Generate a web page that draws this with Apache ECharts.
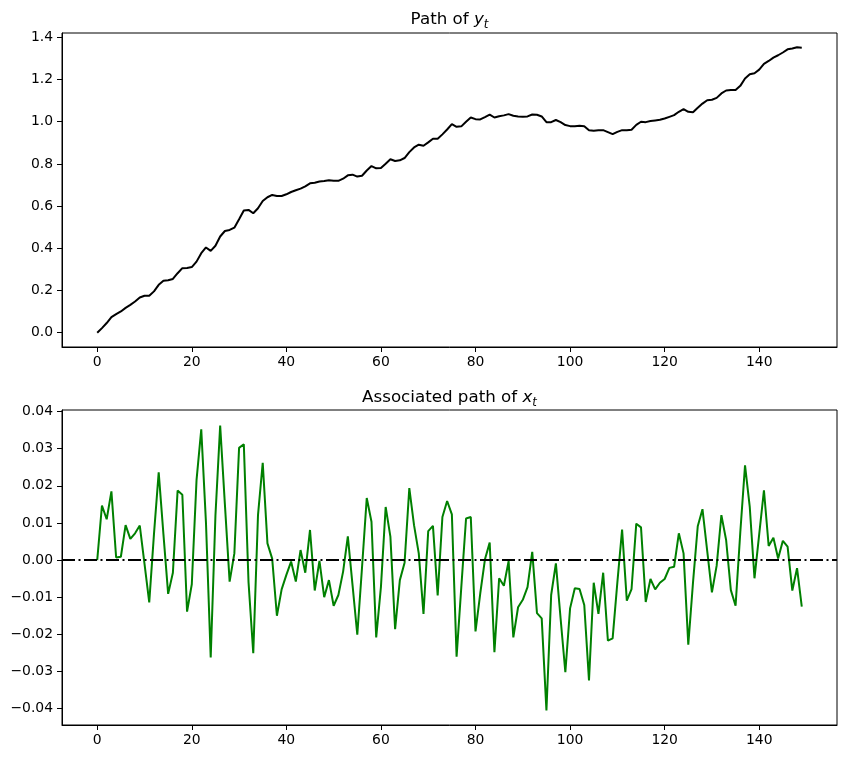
<!DOCTYPE html>
<html>
<head>
<meta charset="utf-8">
<script src="https://cdn.jsdelivr.net/npm/echarts@6/dist/echarts.min.js"></script>
<style>
html, body { margin: 0; padding: 0; background: #fff; }
#main { width: 847px; height: 759px; }
</style>
</head>
<body>
<div id="main"></div>
<script>
// path of y_t
var yPath = [
    0.000, 0.022, 0.046, 0.074, 0.088, 0.101, 0.118, 0.132, 0.148, 0.167,
    0.175, 0.175, 0.196, 0.227, 0.246, 0.249, 0.255, 0.282, 0.306, 0.307,
    0.311, 0.337, 0.377, 0.404, 0.388, 0.412, 0.456, 0.482, 0.487, 0.498,
    0.538, 0.579, 0.582, 0.566, 0.590, 0.624, 0.642, 0.653, 0.648, 0.648,
    0.656, 0.667, 0.675, 0.683, 0.694, 0.708, 0.711, 0.717, 0.719, 0.723,
    0.720, 0.720, 0.730, 0.746, 0.749, 0.740, 0.744, 0.769, 0.790, 0.779,
    0.781, 0.801, 0.822, 0.814, 0.817, 0.828, 0.856, 0.878, 0.891, 0.886,
    0.902, 0.919, 0.919, 0.940, 0.963, 0.989, 0.976, 0.978, 1.000, 1.020,
    1.012, 1.011, 1.022, 1.034, 1.020, 1.026, 1.030, 1.036, 1.028, 1.025,
    1.023, 1.025, 1.034, 1.033, 1.025, 0.998, 0.998, 1.008, 0.998, 0.984,
    0.979, 0.979, 0.981, 0.979, 0.960, 0.957, 0.959, 0.960, 0.951, 0.941,
    0.952, 0.960, 0.960, 0.962, 0.985, 1.000, 0.998, 1.003, 1.006, 1.009,
    1.015, 1.023, 1.031, 1.047, 1.060, 1.047, 1.045, 1.066, 1.086, 1.102,
    1.104, 1.113, 1.134, 1.148, 1.150, 1.150, 1.170, 1.205, 1.225, 1.230,
    1.247, 1.274, 1.288, 1.304, 1.315, 1.328, 1.343, 1.347, 1.353, 1.351
];

// associated path of x_t, lower panel
var xPath = [
    0.0000, 0.0147, 0.0110, 0.0185, 0.0007, 0.0009, 0.0094, 0.0057, 0.0072, 0.0093,
    -0.0010, -0.0114, 0.0070, 0.0236, 0.0070, -0.0091, -0.0034, 0.0187, 0.0176, -0.0139,
    -0.0065, 0.0215, 0.0352, 0.0100, -0.0262, 0.0120, 0.0362, 0.0150, -0.0058, 0.0018,
    0.0302, 0.0312, -0.0060, -0.0251, 0.0121, 0.0262, 0.0045, 0.0004, -0.0150, -0.0079,
    -0.0040, -0.0004, -0.0058, 0.0027, -0.0034, 0.0081, -0.0082, -0.0002, -0.0100, -0.0054,
    -0.0123, -0.0094, -0.0031, 0.0064, -0.0068, -0.0201, -0.0020, 0.0167, 0.0103, -0.0208,
    -0.0072, 0.0143, 0.0063, -0.0186, -0.0054, -0.0007, 0.0194, 0.0094, 0.0018, -0.0145,
    0.0078, 0.0092, -0.0095, 0.0116, 0.0159, 0.0123, -0.0260, -0.0072, 0.0112, 0.0116,
    -0.0192, -0.0090, 0.0002, 0.0047, -0.0248, -0.0049, -0.0069, -0.0003, -0.0208, -0.0127,
    -0.0107, -0.0073, 0.0022, -0.0143, -0.0157, -0.0405, -0.0094, -0.0009, -0.0158, -0.0302,
    -0.0130, -0.0076, -0.0078, -0.0121, -0.0324, -0.0061, -0.0145, -0.0034, -0.0217, -0.0211,
    -0.0060, 0.0082, -0.0109, -0.0078, 0.0098, 0.0088, -0.0113, -0.0051, -0.0079, -0.0061,
    -0.0051, -0.0021, -0.0018, 0.0072, 0.0018, -0.0228, -0.0060, 0.0091, 0.0137, 0.0025,
    -0.0087, -0.0015, 0.0121, 0.0054, -0.0081, -0.0123, 0.0075, 0.0255, 0.0143, -0.0049,
    0.0070, 0.0188, 0.0038, 0.0060, 0.0004, 0.0052, 0.0036, -0.0082, -0.0022, -0.0125
];

var xTicks = [0, 20, 40, 60, 80, 100, 120, 140];
var yTicksTop = [0, 0.2, 0.4, 0.6, 0.8, 1.0, 1.2, 1.4];
var yTicksBottom = [-0.04, -0.03, -0.02, -0.01, 0, 0.01, 0.02, 0.03, 0.04];

var FONT = 'DejaVu Sans';

function fmt(v, d) {
    return v.toFixed(d).replace('-', '\u2212');
}

function xAxisOf(idx) {
    return {
        type: 'value',
        gridIndex: idx,
        min: -7.45,
        max: 156.45,
        axisLine: { show: true, onZero: false, lineStyle: { color: '#000', width: 1 } },
        axisTick: { show: true, customValues: xTicks, length: 5, lineStyle: { color: '#000' } },
        axisLabel: { customValues: xTicks, color: '#000', fontSize: 13.9, fontFamily: FONT, margin: 8 },
        splitLine: { show: false }
    };
}

function yAxisOf(idx, lo, hi, ticks, digits) {
    return {
        type: 'value',
        gridIndex: idx,
        min: lo,
        max: hi,
        axisLine: { show: true, onZero: false, lineStyle: { color: '#000', width: 1 } },
        axisTick: { show: true, customValues: ticks, length: 5, lineStyle: { color: '#000' } },
        axisLabel: {
            customValues: ticks, color: '#000', fontSize: 13.9, fontFamily: FONT, margin: 9,
            formatter: function (v) { return fmt(v, digits); }
        },
        splitLine: { show: false }
    };
}

function titleText(y, pre, sym) {
    return {
        type: 'text',
        x: 449.5,
        y: y,
        style: {
            text: pre + '{i|' + sym + '}{s|t}',
            align: 'center',
            verticalAlign: 'middle',
            fill: '#000',
            font: '16.7px "DejaVu Sans"',
            rich: {
                i: { fontSize: 16.7, fontStyle: 'italic', fontFamily: FONT, fill: '#000' },
                s: { fontSize: 11.7, fontStyle: 'italic', fontFamily: FONT, fill: '#000', padding: [9, 0, 0, 0] }
            }
        }
    };
}

var myChart = echarts.init(document.getElementById('main'), null, { renderer: 'canvas' });

var option = {
    animation: false,
    backgroundColor: '#fff',
    textStyle: { fontFamily: FONT },
    graphic: [
        titleText(20, 'Path of ', 'y'),
        titleText(398, 'Associated path of ', 'x')
    ],
    grid: [
        { left: 62, right: 10, top: 33, height: 314, show: true, borderColor: '#000', borderWidth: 1 },
        { left: 62, right: 10, top: 410, height: 315, show: true, borderColor: '#000', borderWidth: 1 }
    ],
    xAxis: [xAxisOf(0), xAxisOf(1)],
    yAxis: [
        yAxisOf(0, -0.0676, 1.4204, yTicksTop, 1),
        yAxisOf(1, -0.0444, 0.0404, yTicksBottom, 2)
    ],
    series: [
        {
            type: 'line',
            xAxisIndex: 0,
            yAxisIndex: 0,
            data: yPath.map(function (v, i) { return [i, v]; }),
            showSymbol: false,
            lineStyle: { color: '#000', width: 2 },
            itemStyle: { color: '#000' }
        },
        {
            type: 'line',
            xAxisIndex: 1,
            yAxisIndex: 1,
            data: xPath.map(function (v, i) { return [i, v]; }),
            showSymbol: false,
            lineStyle: { color: '#008000', width: 2 },
            itemStyle: { color: '#008000' },
            markLine: {
                silent: true,
                symbol: ['none', 'none'],
                label: { show: false },
                lineStyle: { color: '#000', width: 2, type: [13, 3.5, 2, 3.5] },
                data: [{ yAxis: 0 }]
            }
        }
    ]
};

myChart.setOption(option);
window.addEventListener('resize', myChart.resize);
</script>
</body>
</html>
